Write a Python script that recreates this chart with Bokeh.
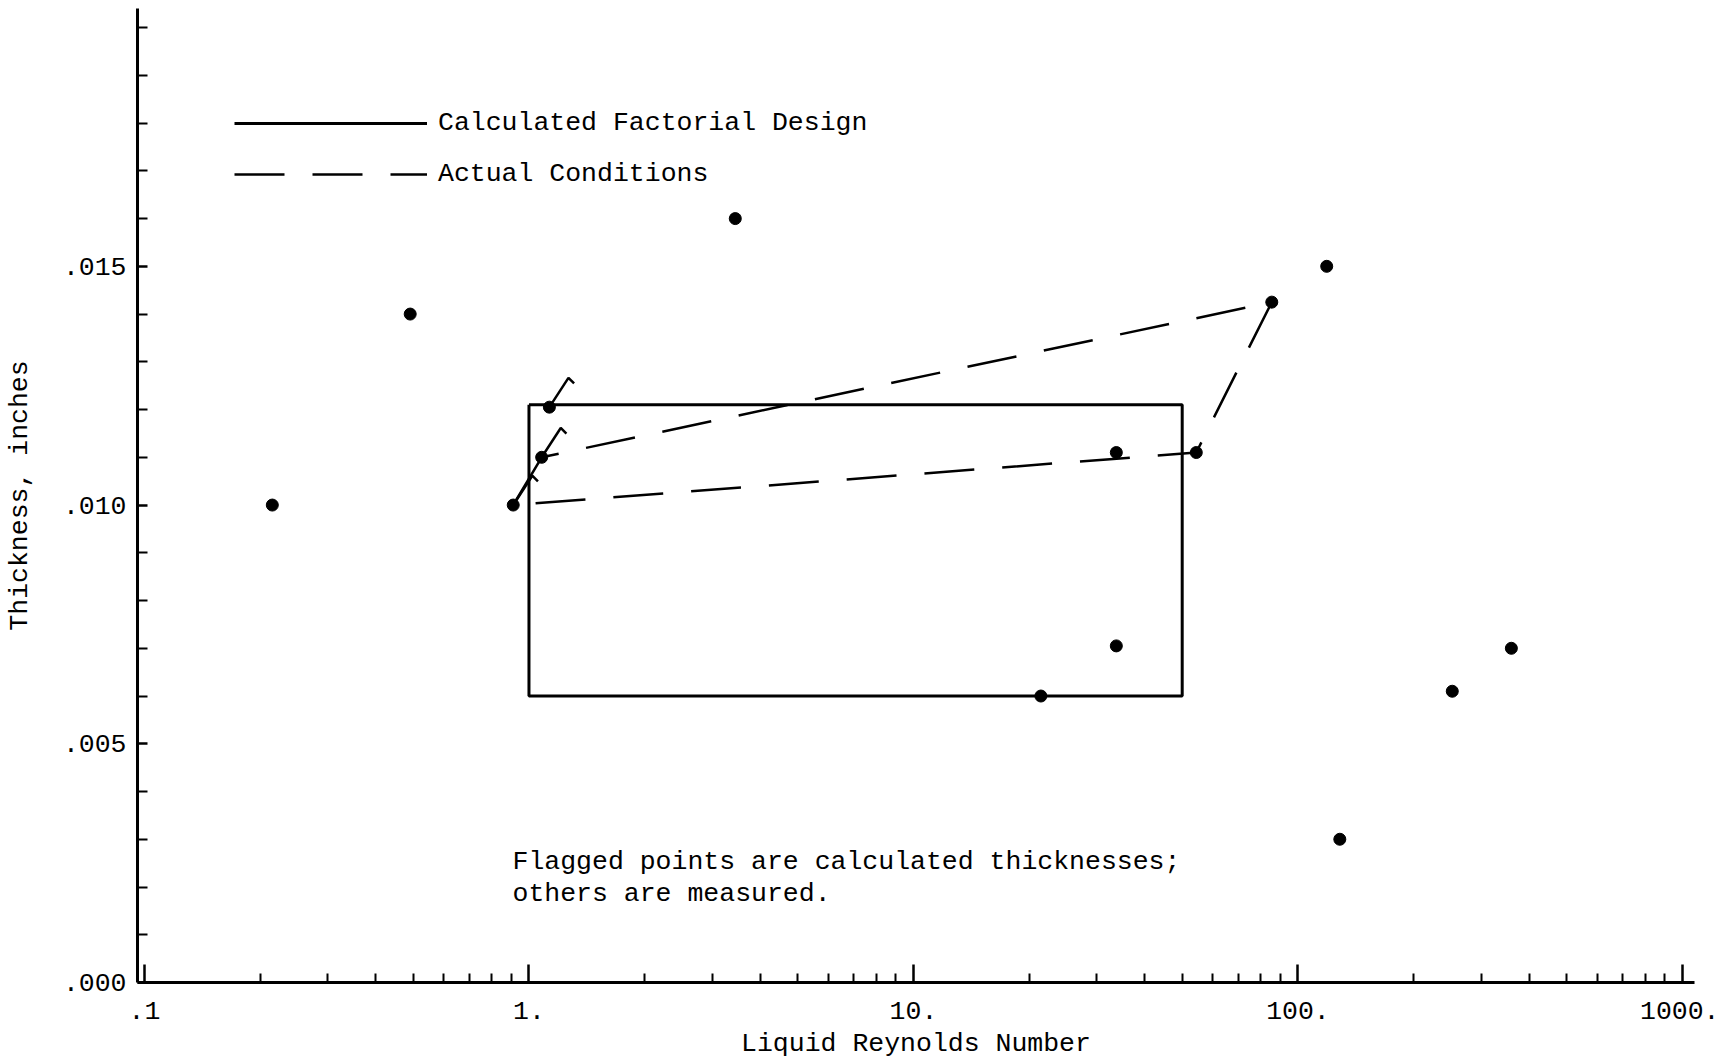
import math
from bokeh.plotting import figure
from bokeh.models import (Range1d, FixedTicker, Legend, LegendItem, Label,
                          CustomJSTickFormatter)
from bokeh.embed import file_html
from bokeh.resources import INLINE

# ---------------- data ----------------
# measured thickness points (Liquid Reynolds number, thickness in inches)
measured_re = [0.215, 0.491, 3.44, 118.8, 85.5, 54.4, 33.7, 33.7, 21.45, 252.0, 359.0, 128.5]
measured_th = [0.0100, 0.0140, 0.0160, 0.0150, 0.01425, 0.0111, 0.0111, 0.00705, 0.0060, 0.0061, 0.0070, 0.0030]

# flagged (calculated) thickness points
flagged_re = [1.13, 1.079, 0.910]
flagged_th = [0.01205, 0.0110, 0.0100]

# calculated factorial design (rectangle corners)
design_re = [1.0, 50.0, 50.0, 1.0, 1.0]
design_th = [0.0121, 0.0121, 0.0060, 0.0060, 0.0121]

# actual conditions (dashed polygon)
actual_re = [1.079, 0.910, 54.4, 85.5, 1.079]
actual_th = [0.0110, 0.0100, 0.0111, 0.01425, 0.0110]

# axis ticks
x_ticks = [0.1, 1.0, 10.0, 100.0, 1000.0]
x_tick_labels = [".1", "1.", "10.", "100.", "1000."]
x_minor_ticks = [0.2, 0.3, 0.4, 0.5, 0.6, 0.7, 0.8, 0.9,
                 2, 3, 4, 5, 6, 7, 8, 9,
                 20, 30, 40, 50, 60, 70, 80, 90,
                 200, 300, 400, 500, 600, 700, 800, 900]
y_ticks = [0.0, 0.005, 0.010, 0.015]
y_tick_labels = [".000", ".005", ".010", ".015"]
y_minor_ticks = [0.001, 0.002, 0.003, 0.004, 0.006, 0.007, 0.008, 0.009,
                 0.011, 0.012, 0.013, 0.014, 0.016, 0.017, 0.018, 0.019, 0.020]

# ---------------- style ----------------
FONT = "Liberation Mono"
FS = "26.5px"
X_MIN, X_MAX = 0.0959, 1075.0
Y_MIN, Y_MAX = 0.0, 0.0204
W, H = 1719, 1062
BL, BR, BT, BB = 137, 25, 8, 80
FRAME_W = W - BL - BR
FRAME_H = H - BT - BB

p = figure(width=W, height=H, x_axis_type="log",
           x_range=Range1d(X_MIN, X_MAX), y_range=Range1d(Y_MIN, Y_MAX),
           output_backend="svg", toolbar_location=None,
           min_border_left=BL, min_border_right=BR,
           min_border_top=BT, min_border_bottom=BB)
p.grid.visible = False
p.outline_line_color = None
p.background_fill_color = "white"
p.border_fill_color = "white"

# axes
xa = p.xaxis[0]
xa.ticker = FixedTicker(ticks=x_ticks, minor_ticks=x_minor_ticks)
xa.formatter = CustomJSTickFormatter(args=dict(tvals=x_ticks, tlabels=x_tick_labels), code="""
let best = 0, d = Infinity;
for (let i = 0; i < tvals.length; i++) {
  const e = Math.abs(Math.log10(tick) - Math.log10(tvals[i]));
  if (e < d) { d = e; best = i; }
}
return tlabels[best];
""")
ya = p.yaxis[0]
ya.ticker = FixedTicker(ticks=y_ticks, minor_ticks=y_minor_ticks)
ya.formatter = CustomJSTickFormatter(args=dict(tvals=y_ticks, tlabels=y_tick_labels), code="""
let best = 0, d = Infinity;
for (let i = 0; i < tvals.length; i++) {
  const e = Math.abs(tick - tvals[i]);
  if (e < d) { d = e; best = i; }
}
return tlabels[best];
""")

for ax in (xa, ya):
    ax.axis_line_width = 3
    ax.axis_line_color = "black"
    ax.major_tick_line_color = "black"
    ax.minor_tick_line_color = "black"
    ax.major_tick_line_width = 2.5
    ax.minor_tick_line_width = 2
    ax.major_tick_out = 0
    ax.minor_tick_out = 0
    ax.major_label_text_font = FONT
    ax.major_label_text_font_size = FS
    ax.major_label_text_color = "black"
    ax.axis_label_text_font = FONT
    ax.axis_label_text_font_size = FS
    ax.axis_label_text_font_style = "normal"
    ax.axis_label_text_color = "black"

xa.major_tick_in = 18
xa.minor_tick_in = 9
xa.major_label_standoff = 19
xa.axis_label = "Liquid Reynolds Number"
xa.axis_label_standoff = 7

ya.major_tick_in = 10
ya.minor_tick_in = 10
ya.major_label_standoff = 11
ya.axis_label = "Thickness, inches"
ya.axis_label_standoff = 25

# glyphs
rect = p.line(design_re, design_th, line_width=3, line_color="black")
dash = p.line(actual_re, actual_th, line_width=2.5, line_color="black", line_dash="50 28")
p.scatter(measured_re, measured_th, size=12, color="black")
p.scatter(flagged_re, flagged_th, size=12, color="black")

# flags on the calculated points (stem + hook, sized in screen pixels)
ppd = FRAME_W / (math.log10(X_MAX) - math.log10(X_MIN))
ppu = FRAME_H / (Y_MAX - Y_MIN)
stem_len, stem_ang = 35, math.radians(57)
hook_len, hook_ang = 8, math.radians(-45)
fx, fy = [], []
for x, y in zip(flagged_re, flagged_th):
    sx = x * 10 ** (stem_len * math.cos(stem_ang) / ppd)
    sy = y + stem_len * math.sin(stem_ang) / ppu
    hx = sx * 10 ** (hook_len * math.cos(hook_ang) / ppd)
    hy = sy + hook_len * math.sin(hook_ang) / ppu
    fx.append([x, sx, hx])
    fy.append([y, sy, hy])
p.multi_line(fx, fy, line_width=2.5, line_color="black")

# legend
legend = Legend(items=[LegendItem(label="Calculated Factorial Design", renderers=[rect]),
                       LegendItem(label="Actual Conditions", renderers=[dash])],
                location=(97, 793), glyph_width=193, glyph_height=30,
                label_height=30, label_standoff=11, spacing=21,
                padding=0, margin=0, border_line_color=None,
                background_fill_alpha=0,
                label_text_font=FONT, label_text_font_size=FS,
                label_text_color="black")
p.add_layout(legend)

# note
p.add_layout(Label(x=375, y=136, x_units="screen", y_units="screen",
                   text="Flagged points are calculated thicknesses;\nothers are measured.",
                   text_align="left", text_baseline="top", text_line_height=1.07,
                   text_font=FONT, text_font_size=FS, text_color="black"))

open("out.html", "w").write(file_html(p, INLINE))
